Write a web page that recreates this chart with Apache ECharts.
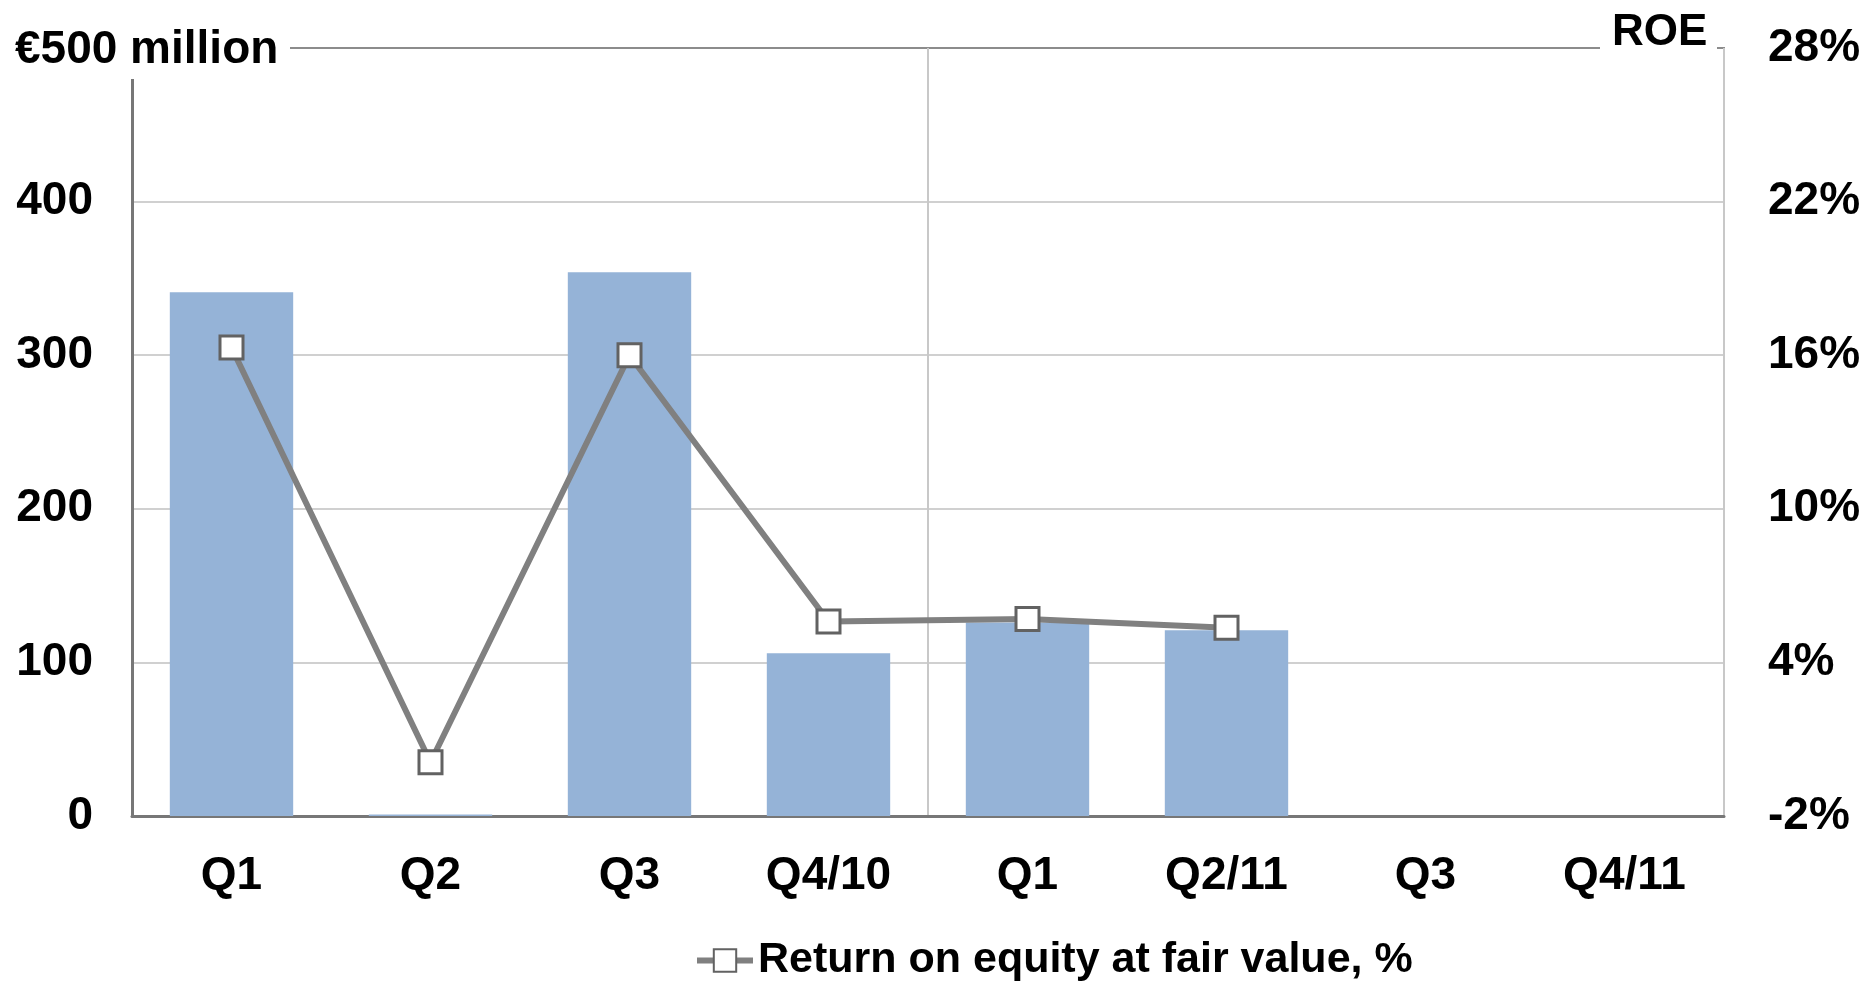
<!DOCTYPE html>
<html>
<head>
<meta charset="utf-8">
<script src="https://cdn.jsdelivr.net/npm/echarts@6/dist/echarts.min.js"></script>
<style>
html,body{margin:0;padding:0;background:#fff;}
#chart{width:1868px;height:982px;}
</style>
</head>
<body>
<div id="chart"></div>
<script>
const categories = ['Q1', 'Q2', 'Q3', 'Q4/10', 'Q1', 'Q2/11', 'Q3', 'Q4/11'];
const profitValues = [341, 1, 354, 106, 126, 121, null, null];
const roeValues = [16.3, 0.1, 16.0, 5.6, 5.7, 5.35, null, null];
const leftAxisTitle = '€500 million';
const rightAxisTitle = 'ROE';
const roeSeriesName = 'Return on equity at fair value, %';

const FONT = "'Liberation Sans', Arial, sans-serif";
const chart = echarts.init(document.getElementById('chart'), null, {renderer: 'canvas'});

chart.setOption({
  animation: false,
  backgroundColor: '#ffffff',
  grid: {
    left: 132, right: 144, top: 48, bottom: 166,
    show: true, borderColor: '#8c8c8c', borderWidth: 2, backgroundColor: 'transparent'
  },
  legend: {
    data: [roeSeriesName],
    left: 689, top: 934,
    itemWidth: 56, itemHeight: 28,
    lineStyle: {width: 6, color: '#808080'},
    textStyle: {fontFamily: FONT, fontWeight: 'bold', fontSize: 43, color: '#000'}
  },
  xAxis: {
    type: 'category',
    data: categories,
    boundaryGap: true,
    axisLine: {show: true, lineStyle: {color: '#777777', width: 3}},
    axisTick: {show: false, interval: 3},
    axisLabel: {margin: 37, fontFamily: FONT, fontWeight: 'bold', fontSize: 46, color: '#000'},
    splitLine: {
      show: true,
      interval: 3,
      lineStyle: {color: '#c8c8c8', width: 2}
    }
  },
  yAxis: [
    {
      type: 'value', min: 0, max: 500, interval: 100,
      axisLine: {show: true, lineStyle: {color: '#777777', width: 3}},
      axisTick: {show: false},
      axisLabel: {
        margin: 39, fontFamily: FONT, fontWeight: 'bold', fontSize: 46, color: '#000',
        showMaxLabel: false,
        formatter: function (v) { return v === 500 ? '' : String(v); }
      },
      splitLine: {show: true, showMaxLine: false, lineStyle: {color: '#d0d0d0', width: 2}}
    },
    {
      type: 'value', min: -2, max: 28, interval: 6,
      position: 'right',
      axisLine: {show: false},
      axisTick: {show: false},
      axisLabel: {
        margin: 44, fontFamily: FONT, fontWeight: 'bold', fontSize: 46, color: '#000',
        formatter: '{value}%'
      },
      splitLine: {show: false}
    }
  ],
  series: [
    {
      name: 'Profit',
      type: 'bar',
      data: profitValues,
      barWidth: '62%',
      itemStyle: {color: '#95B3D7'},
      z: 2
    },
    {
      name: roeSeriesName,
      type: 'line',
      yAxisIndex: 1,
      data: roeValues,
      symbol: 'rect',
      symbolSize: 23,
      lineStyle: {color: '#808080', width: 6},
      itemStyle: {color: '#ffffff', borderColor: '#626262', borderWidth: 3},
      z: 3
    }
  ],
  graphic: [
    {type: 'rect', z: 100, shape: {x: 0, y: 10, width: 290, height: 69}, style: {fill: '#ffffff'}},
    {type: 'text', z: 101, x: 15, y: 50,
      style: {text: leftAxisTitle, font: "bold 46px " + FONT, fill: '#000', textAlign: 'left', textVerticalAlign: 'middle'}},
    {type: 'rect', z: 100, shape: {x: 1600, y: 5, width: 117, height: 48}, style: {fill: '#ffffff'}},
    {type: 'text', z: 101, x: 1612, y: 33,
      style: {text: rightAxisTitle, font: "bold 44px " + FONT, fill: '#000', textAlign: 'left', textVerticalAlign: 'middle'}}
  ]
});
</script>
</body>
</html>
